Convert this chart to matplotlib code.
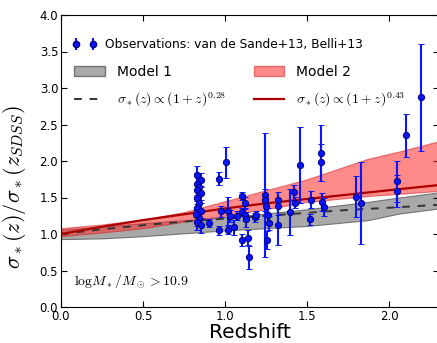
import matplotlib

matplotlib.use("Agg")
import matplotlib.pyplot as plt
from matplotlib.lines import Line2D
from matplotlib.patches import Patch

plt.rcParams["mathtext.fontset"] = "cm"
plt.rcParams["font.family"] = "DejaVu Sans"

# model bands
band_z = [0.0, 0.25, 0.5, 0.75, 1.0, 1.25, 1.5, 1.87, 2.06, 2.3]
model1_lo = [0.93, 0.94, 0.97, 1.01, 1.05, 1.08, 1.11, 1.19, 1.28, 1.35]
model1_hi = [1.06, 1.10, 1.15, 1.19, 1.23, 1.28, 1.34, 1.44, 1.50, 1.57]
model2_lo = [0.97, 1.02, 1.08, 1.17, 1.25, 1.34, 1.44, 1.52, 1.55, 1.59]
model2_hi = [1.08, 1.13, 1.20, 1.30, 1.45, 1.60, 1.75, 2.03, 2.13, 2.27]

# power-law guide lines
line_z = [0.0, 0.25, 0.5, 0.75, 1.0, 1.25, 1.5, 1.75, 2.0, 2.3]
line_028 = [1.00, 1.065, 1.12, 1.17, 1.21, 1.25, 1.29, 1.33, 1.36, 1.40]
line_043 = [1.00, 1.10, 1.19, 1.27, 1.35, 1.42, 1.48, 1.54, 1.60, 1.67]

# observations: redshift, sigma ratio, error
obs_z = [0.83, 0.85, 0.83, 0.84, 0.83, 0.85, 0.83, 0.84, 0.83, 0.85, 0.83, 0.84,
         0.83, 0.85, 0.82, 0.96, 1.005, 0.90, 0.96, 0.975, 1.02, 1.03, 1.02, 1.055,
         1.07, 1.10, 1.12, 1.10, 1.12, 1.13, 1.10, 1.14, 1.145, 1.18, 1.19, 1.245,
         1.245, 1.25, 1.26, 1.254, 1.27, 1.32, 1.325, 1.32, 1.396, 1.42, 1.425,
         1.457, 1.524, 1.52, 1.585, 1.585, 1.59, 1.605, 1.80, 1.83, 2.047, 2.047,
         2.10, 2.195]
obs_v = [1.81, 1.74, 1.69, 1.65, 1.60, 1.56, 1.49, 1.42, 1.35, 1.31, 1.26, 1.22,
         1.17, 1.12, 1.28, 1.76, 1.98, 1.15, 1.05, 1.31, 1.31, 1.25, 1.06, 1.09,
         1.25, 1.52, 1.43, 1.30, 1.26, 1.20, 0.92, 0.95, 0.68, 1.23, 1.26, 1.54,
         1.47, 1.38, 1.26, 0.92, 1.15, 1.47, 1.38, 1.12, 1.30, 1.57, 1.43,
         1.95, 1.47, 1.20, 2.11, 1.98, 1.44, 1.37, 1.51, 1.42, 1.72, 1.59,
         2.35, 2.87]
obs_err = [0.12, 0.10, 0.15, 0.12, 0.10, 0.10, 0.12, 0.10, 0.10, 0.12, 0.15, 0.10,
           0.12, 0.10, 0.05, 0.09, 0.21, 0.06, 0.06, 0.08, 0.20, 0.08, 0.06, 0.10,
           0.06, 0.06, 0.08, 0.06, 0.08, 0.10, 0.08, 0.10, 0.16, 0.06, 0.05, 0.85,
           0.15, 0.12, 0.10, 0.12, 0.10, 0.10, 0.12, 0.27, 0.32, 0.10, 0.08,
           0.52, 0.12, 0.08, 0.38, 0.25, 0.12, 0.12, 0.28, 0.56, 0.28, 0.22,
           0.29, 0.73]

fig = plt.figure(figsize=(4.37, 3.43), dpi=100)
ax = fig.add_axes([61 / 437, 36 / 343, 377.5 / 437, 292 / 343])

ax.fill_between(band_z, model1_lo, model1_hi, facecolor="#8c8c8c", edgecolor="#555555",
                alpha=0.75, linewidth=0.8, zorder=1)
ax.fill_between(band_z, model2_lo, model2_hi, facecolor="#ff2a2a", edgecolor="#cc2222",
                alpha=0.55, linewidth=0.8, zorder=2)
ax.plot(line_z, line_028, linestyle="--", color="#333333", linewidth=1.4, dashes=(4, 4), zorder=3)
ax.plot(line_z, line_043, color="#aa0000", linewidth=1.6, zorder=3)

ax.errorbar(obs_z, obs_v, yerr=obs_err, fmt="o", color="#0a14ff", ecolor="#0a14ff",
            markersize=4.5, markeredgecolor="#00007a", markeredgewidth=0.7,
            elinewidth=1.5, capsize=2, capthick=0.8, zorder=4)

ax.set_xlim(0, 2.3)
ax.set_ylim(0, 4.0)
ax.set_xticks([0.0, 0.5, 1.0, 1.5, 2.0])
ax.set_yticks([0.0, 0.5, 1.0, 1.5, 2.0, 2.5, 3.0, 3.5, 4.0])
ax.tick_params(direction="in", top=True, right=True, length=4, labelsize=8.5, pad=2)
ax.set_xlabel("Redshift", fontsize=14.5, labelpad=0)
ax.set_ylabel(r"$\sigma_*(z)/\sigma_*(z_{SDSS})$", fontsize=16)
ax.yaxis.set_label_coords(-0.088, 0.41)

ax.text(0.035, 0.09, r"$\mathrm{log}M_*/M_\odot>10.9$", transform=ax.transAxes,
        fontsize=10, va="center", ha="left")

err_handle = ax.errorbar([], [], yerr=[], fmt="o", color="#0a14ff", markersize=4.5,
                         markeredgecolor="#00007a", elinewidth=1.5, capsize=2)
leg1 = ax.legend([err_handle], ["Observations: van de Sande+13, Belli+13"],
                 loc="upper left", bbox_to_anchor=(0.03, 0.92), frameon=False,
                 fontsize=8.8, numpoints=2, borderpad=0, borderaxespad=0,
                 handlelength=2.0, handletextpad=0.7)
ax.add_artist(leg1)

h_m1 = Patch(facecolor="#8c8c8c", edgecolor="#555555", alpha=0.75)
h_m2 = Patch(facecolor="#ff2a2a", edgecolor="#cc2222", alpha=0.55)
h_l1 = Line2D([], [], linestyle="--", color="#333333", linewidth=1.4, dashes=(4, 4))
h_l2 = Line2D([], [], color="#aa0000", linewidth=1.6)
ax.legend([h_m1, h_l1, h_m2, h_l2],
          ["Model 1", r"$\sigma_*(z)\propto(1+z)^{0.28}$",
           "Model 2", r"$\sigma_*(z)\propto(1+z)^{0.43}$"],
          ncol=2, loc="upper left", bbox_to_anchor=(0.035, 0.83), frameon=False,
          fontsize=10, borderpad=0, borderaxespad=0, handlelength=2.2,
          handletextpad=0.85, columnspacing=2.0, labelspacing=0.85)

fig.savefig("out.png", dpi=100)
